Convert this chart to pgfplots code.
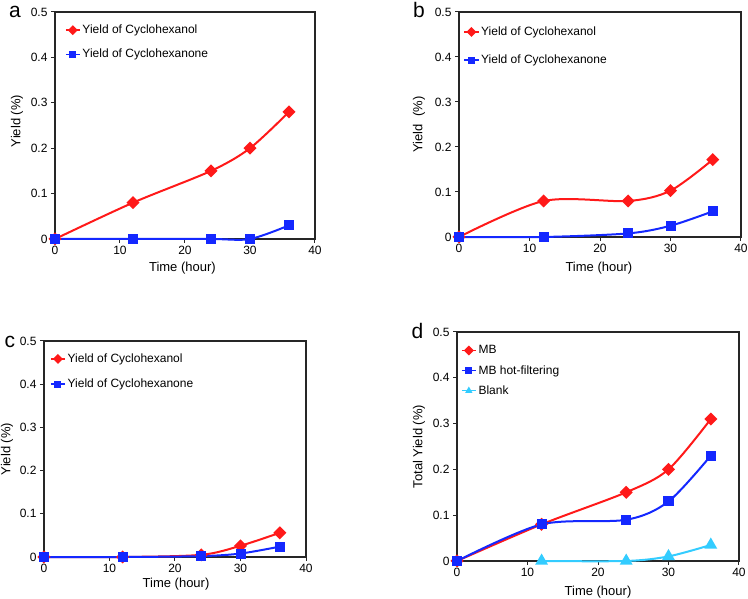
\documentclass[border=0pt]{standalone}
\usepackage{pgfplots}
\pgfplotsset{compat=1.18}
\usepackage{fontspec}
\setmainfont{Liberation Sans}
\definecolor{cred}{RGB}{255,25,25}
\definecolor{cblue}{RGB}{20,40,255}
\definecolor{ccyan}{RGB}{51,204,255}
\pgfplotsset{
  panel/.style={
    scale only axis, anchor=south west,
    xmin=0,xmax=40,ymin=0,ymax=0.5,
    xtick={0,10,20,30,40}, ytick={0,0.1,0.2,0.3,0.4,0.5},
    yticklabels={0,0.1,0.2,0.3,0.4,0.5},
    tick align=outside, xtick pos=bottom, ytick pos=left,
    major tick length=4pt,
    axis line style={line width=1.7pt, black!85},
    tick style={line width=1pt, black!85},
    tick label style={font=\fontsize{12}{14}\selectfont},
    label style={font=\fontsize{13}{15}\selectfont},
    /pgf/number format/assume math mode=true,
    legend style={draw=none, fill=none, anchor=north west, font=\fontsize{12}{14}\selectfont, inner sep=0pt, cells={anchor=west}},
    legend cell align=left,
    legend image code/.code={\draw[mark repeat=2,mark phase=2,line width=1.4pt,mark size=2.8pt] plot coordinates {(0pt,0pt)(7pt,0pt)(14pt,0pt)};},
    xlabel={Time (hour)},
    clip=false,
  },
  sred/.style={cred, line width=2pt, smooth, mark=square*, mark options={rotate=45}, mark size=3.6pt},
  sblue/.style={cblue, line width=2pt, smooth, mark=square*, mark size=4pt},
  scyan/.style={ccyan, line width=2pt, smooth, mark=triangle*, mark size=5.5pt},
}
\begin{document}
\begin{tikzpicture}
\useasboundingbox (0pt,0pt) rectangle (748pt,599pt);
% panel a
\begin{axis}[panel, at={(55pt,360pt)}, width=260pt, height=227pt,
  ylabel={Yield (\%)},
  ylabel style={at={(axis description cs:-0.146,0.52)},anchor=center},
  xlabel style={at={(axis description cs:0.49,-0.128)},anchor=center},
  legend style={at={(rel axis cs:0.038,0.952)}, row sep=10pt}]
\addplot[sred] coordinates {(0,0)(12,0.08)(24,0.15)(30,0.2)(36,0.28)};
\addlegendentry{Yield of Cyclohexanol}
\addplot[sblue] coordinates {(0,0)(12,0)(24,0)(30,0)(36,0.03)};
\addlegendentry{Yield of Cyclohexanone}
\end{axis}
% panel b
\begin{axis}[panel, at={(459pt,362pt)}, width=282pt, height=225pt,
  ylabel={Yield\ \ (\%)},
  ylabel style={at={(axis description cs:-0.142,0.5)},anchor=center},
  xlabel style={at={(axis description cs:0.496,-0.138)},anchor=center},
  legend style={at={(rel axis cs:0.016,0.944)}, row sep=14pt}]
\addplot[sred] coordinates {(0,0)(12,0.08)(24,0.08)(30,0.103)(36,0.172)};
\addlegendentry{Yield of Cyclohexanol}
\addplot[sblue] coordinates {(0,0)(12,0)(24,0.008)(30,0.025)(36,0.057)};
\addlegendentry{Yield of Cyclohexanone}
\end{axis}
% panel c
\begin{axis}[panel, at={(44pt,42pt)}, width=262pt, height=216pt,
  ylabel={Yield (\%)},
  ylabel style={at={(axis description cs:-0.141,0.5)},anchor=center},
  xlabel style={at={(axis description cs:0.504,-0.125)},anchor=center},
  legend style={at={(rel axis cs:0.023,0.951)}, row sep=11pt}]
\addplot[sred] coordinates {(0,0)(12,0)(24,0.005)(30,0.026)(36,0.056)};
\addlegendentry{Yield of Cyclohexanol}
\addplot[sblue] coordinates {(0,0)(12,0)(24,0.002)(30,0.008)(36,0.024)};
\addlegendentry{Yield of Cyclohexanone}
\end{axis}
% panel d
\begin{axis}[panel, at={(457pt,38pt)}, width=282pt, height=229pt,
  ylabel={Total Yield (\%)},
  ylabel style={at={(axis description cs:-0.135,0.5)},anchor=center},
  xlabel style={at={(axis description cs:0.5,-0.135)},anchor=center},
  legend style={at={(rel axis cs:0.014,0.95)}, row sep=6pt}]
\addplot[sred] coordinates {(0,0)(12,0.08)(24,0.15)(30,0.2)(36,0.31)};
\addlegendentry{MB}
\addplot[sblue] coordinates {(0,0)(12,0.08)(24,0.09)(30,0.13)(36,0.23)};
\addlegendentry{MB hot-filtering}
\addplot[scyan] coordinates {(12,0)(24,0)(30,0.01)(36,0.035)};
\addlegendentry{Blank}
\end{axis}
% panel letters
\node[anchor=base, font=\fontsize{21}{24}\selectfont] at (15pt,581pt) {a};
\node[anchor=base, font=\fontsize{21}{24}\selectfont] at (419pt,581pt) {b};
\node[anchor=base, font=\fontsize{21}{24}\selectfont] at (10pt,251pt) {c};
\node[anchor=base, font=\fontsize{21}{24}\selectfont] at (417.5pt,260pt) {d};
\end{tikzpicture}
\end{document}
